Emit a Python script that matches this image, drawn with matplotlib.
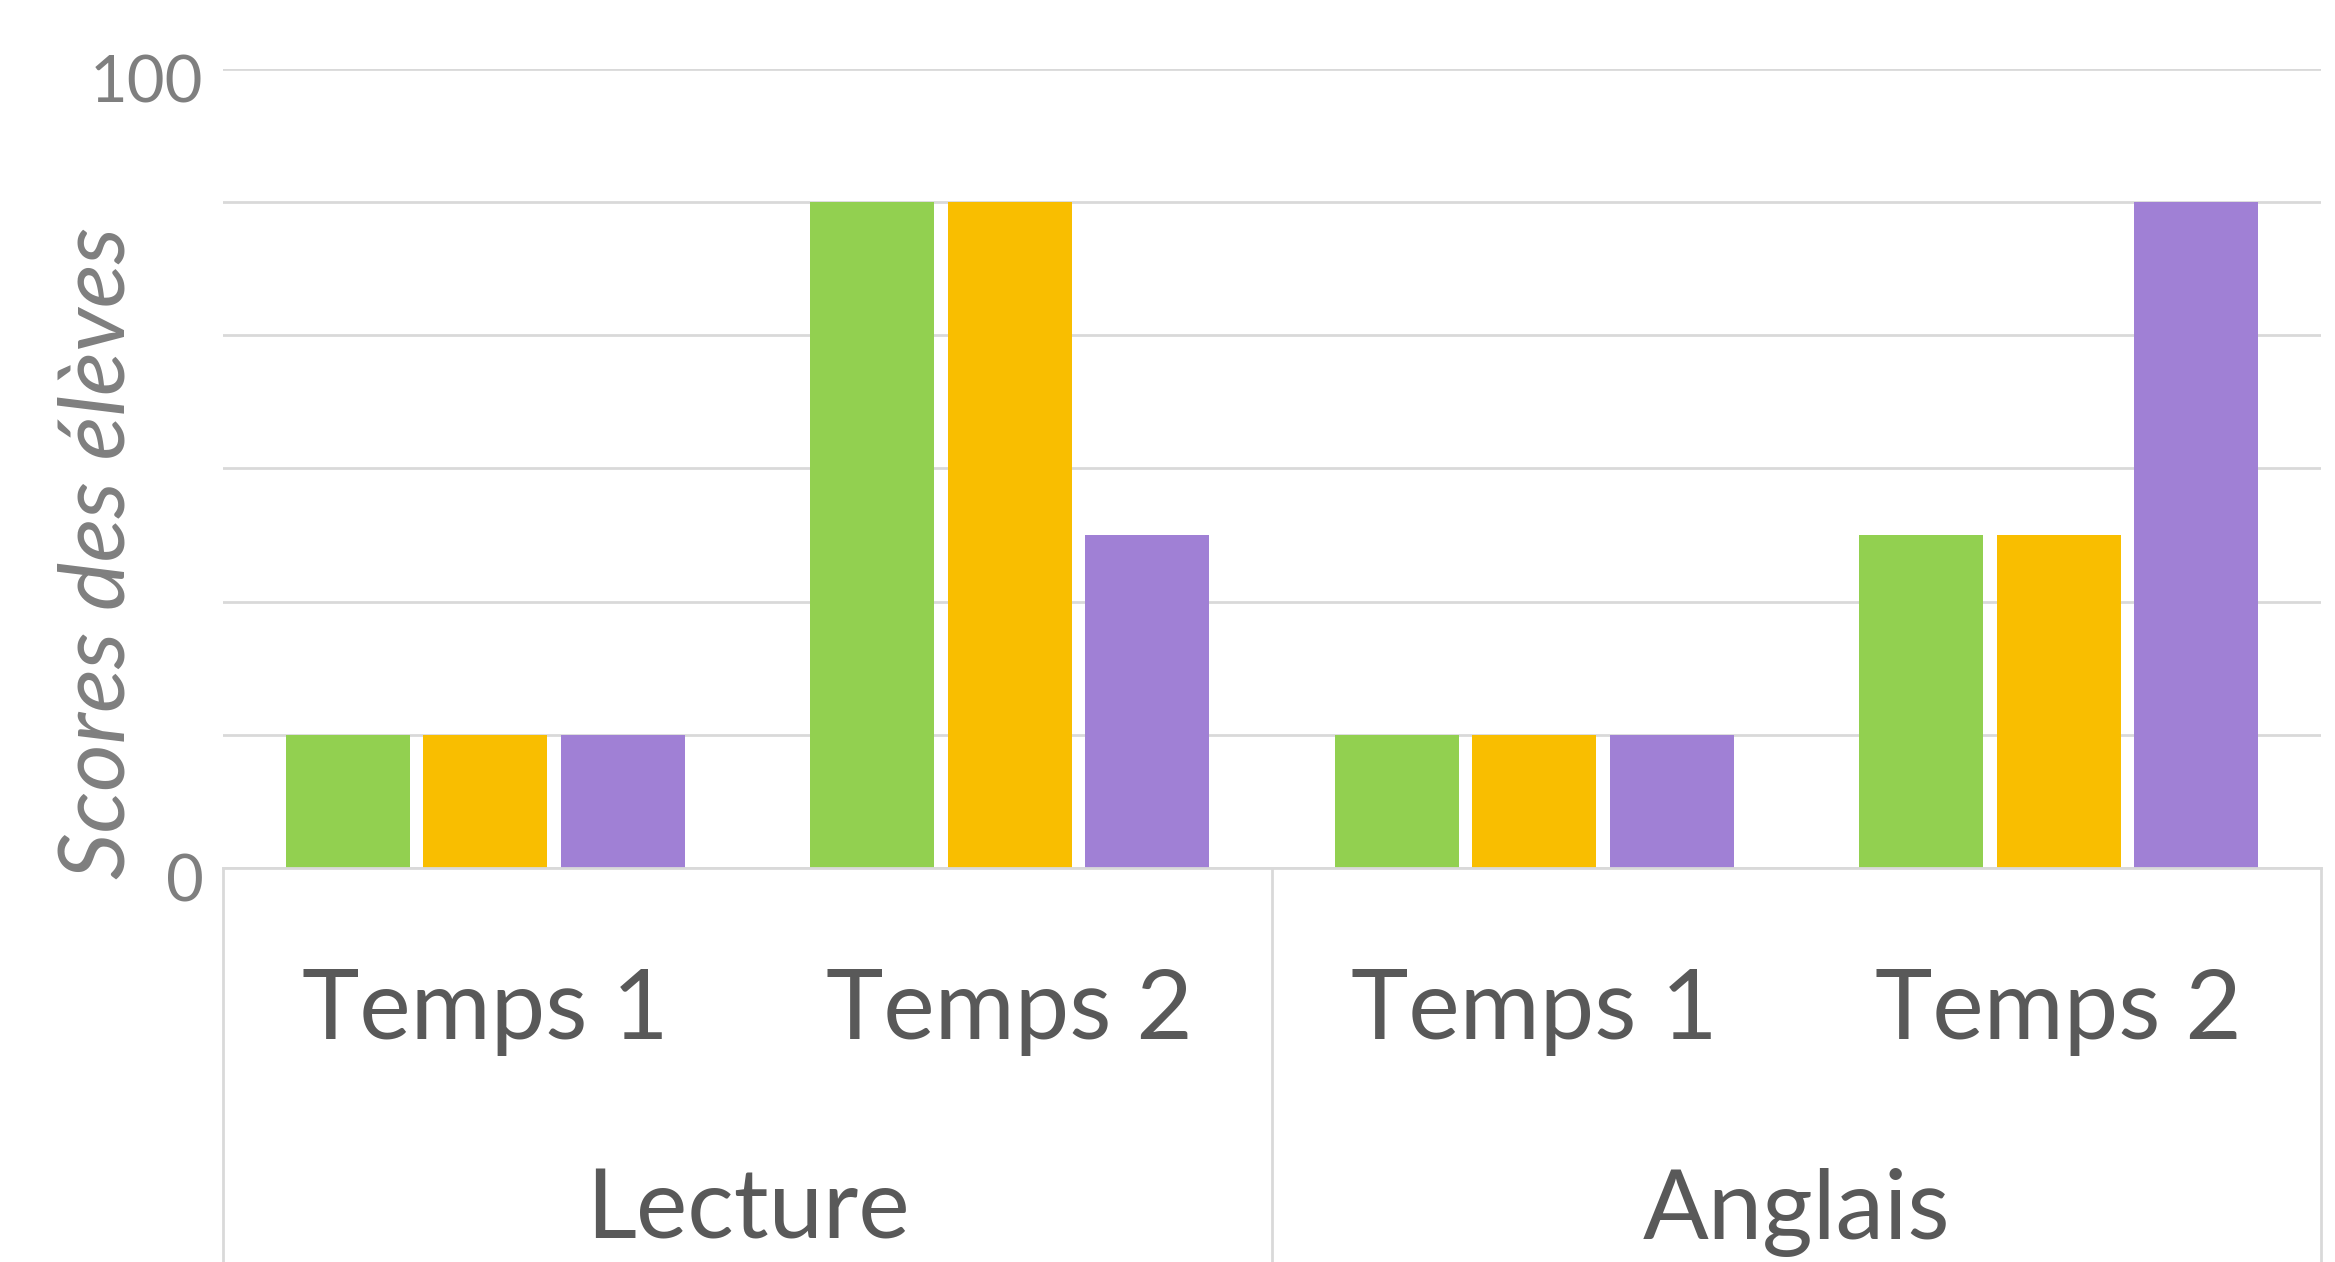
import matplotlib
matplotlib.use("Agg")
import matplotlib.pyplot as plt
import matplotlib.transforms as mtransforms
from matplotlib.lines import Line2D
import numpy as np

plt.rcParams['font.family'] = ['Lato', 'DejaVu Sans']

groups = ["Lecture", "Anglais"]
times = ["Temps 1", "Temps 2", "Temps 1", "Temps 2"]
series_a = [16.67, 83.33, 16.67, 41.67]
series_b = [16.67, 83.33, 16.67, 41.67]
series_c = [16.67, 41.67, 16.67, 83.33]
colors = ["#92D050", "#F9BE00", "#A080D5"]
ylabel = "Scores des élèves"

fig = plt.figure(figsize=(23.35, 12.62), dpi=100)
ax = fig.add_axes([223/2335, 1-868/1262, (2321-223)/2335, (868-68.5)/1262])

x = np.arange(len(times))
w = 0.236
step = 0.262
for i, (vals, c) in enumerate(zip([series_a, series_b, series_c], colors)):
    ax.bar(x + (i-1)*step, vals, width=w, color=c, zorder=3)

ax.set_xlim(-0.5, 3.5)
ax.set_ylim(0, 100)
ticks = np.linspace(0, 100, 7)
ax.set_yticks(ticks)
ax.set_yticklabels(["0", "", "", "", "", "", "100"])
ax.tick_params(axis='y', length=0, pad=14, labelsize=47, labelcolor="#7F7F7F")
offset = mtransforms.ScaledTranslation(0, -10/100, fig.dpi_scale_trans)
for lbl in ax.get_yticklabels():
    lbl.set_transform(lbl.get_transform() + offset)
ax.set_xticks([])
ax.grid(axis='y', color="#D9D9D9", linewidth=2, zorder=0)
for s in ['top', 'right', 'left']:
    ax.spines[s].set_visible(False)
ax.spines['bottom'].set_color("#D9D9D9")
ax.spines['bottom'].set_linewidth(2)
ax.spines['bottom'].set_zorder(4)

trans = ax.get_xaxis_transform()
for xi, t in zip(x, times):
    ax.text(xi, -0.214, t, transform=trans, ha='center', va='baseline',
            fontsize=70, color="#595959")
for gi, g in enumerate(groups):
    ax.text(gi*2 + 0.5, -0.464, g, transform=trans, ha='center', va='baseline',
            fontsize=70, color="#595959")
for xs in [-0.5, 1.5, 3.5]:
    ax.add_line(Line2D([xs, xs], [0, -0.6], transform=trans, color="#D9D9D9",
                       linewidth=2, clip_on=False))

fig.text(99/2335, 1-553/1262, ylabel, rotation=90, ha='center', va='center',
         fontsize=66, style='italic', color="#7F7F7F")

fig.savefig("out.png", dpi=100)
